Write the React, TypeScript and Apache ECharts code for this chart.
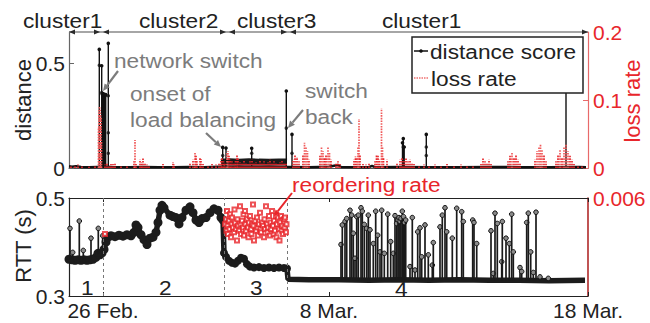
import React, { useEffect, useRef } from 'react';
import * as echarts from 'echarts';

const FONT = '"Liberation Sans", Arial, Helvetica, sans-serif';
const RED = '#e8262b';
const GRAY = '#7c7c7c';

// x unit = sample index (hours from start of the trace)
const xTickValues = [34, 260, 519];
const xTickLabels = ['26 Feb.', '8 Mar.', '18 Mar.'];
const periodBounds = [34, 155, 218];

const distTicks = [0, 0.5];
const lossTicks = [0, 0.1, 0.2];
const rttTicks = [0.3, 0.5];
const reorderTicks = [0.006];

// distance score baseline
const distBase = [
  [0, 0.008], [3, 0.006], [7, 0.009], [12, 0.005], [20, 0.004], [28, 0.005], [38, 0.006], [45, 0.004],
  [60, 0.004], [75, 0.005], [90, 0.004], [105, 0.004], [120, 0.005], [135, 0.004], [150, 0.006],
  [219, 0.005], [240, 0.004], [260, 0.006], [269, 0.014], [272, 0.005], [300, 0.004], [303, 0.01],
  [306, 0.004], [330, 0.005], [360, 0.004], [390, 0.004], [420, 0.005], [450, 0.004], [480, 0.004],
  [510, 0.005], [517, 0.004],
];
// distance during load balancing period
const distBand = [
  [152, 0.028], [160, 0.03], [170, 0.027], [180, 0.03], [190, 0.028], [200, 0.027], [210, 0.029], [218, 0.028],
];
// distance score spikes [x, top]
const distSpikes = [
  [30.3, 0.565], [32.7, 0.487], [33.2, 0.352], [33.7, 0.355], [34.2, 0.35], [34.7, 0.352], [35.2, 0.348],
  [35.7, 0.35], [36.2, 0.345], [36.7, 0.35], [39.3, 0.594], [153.7, 0.098], [157, 0.095], [182.7, 0.094],
  [217.3, 0.367], [223, 0.16], [333.5, 0.12], [334.3, 0.14], [335.2, 0.1], [357.3, 0.16], [497, 0.45],
];
const distDots = [
  [30.3, 0.49], [32.7, 0.36], [39.3, 0.344], [39.3, 0.168], [39.3, 0.07], [217.3, 0.19], [223, 0.07],
  [334.3, 0.1], [357.3, 0.1], [357.3, 0.06], [182.7, 0.07], [153.7, 0.06],
];

// loss rate stems [x, rate]
const lossRate = [
  [2, 0.004], [6, 0.003], [9, 0.005], [13, 0.003], [20, 0.002], [26, 0.003],
  [29.5, 0.06], [30, 0.085], [30.5, 0.09], [31, 0.088], [31.5, 0.08], [32, 0.075], [32.5, 0.04],
  [36, 0.005], [38, 0.008], [40, 0.004], [42, 0.006], [44, 0.006], [46, 0.008], [52, 0.004], [58, 0.003],
  [65, 0.01], [66, 0.041], [67, 0.006], [71, 0.012], [72.5, 0.009], [74, 0.014], [76, 0.007], [78, 0.005],
  [80, 0.004], [94, 0.006], [104, 0.009], [105, 0.005], [121, 0.008], [124, 0.012], [126, 0.024],
  [127, 0.018], [128, 0.01], [131, 0.015], [132, 0.013], [134, 0.006], [139, 0.004], [143, 0.006],
  [147, 0.005], [150, 0.008], [152, 0.012], [153, 0.015], [154.5, 0.01], [156, 0.008], [158, 0.022],
  [159, 0.025], [160, 0.018], [161.5, 0.012], [163, 0.01], [165, 0.008], [166.5, 0.012], [168, 0.02],
  [169, 0.014], [171, 0.009], [173, 0.007], [175, 0.011], [177, 0.008], [179, 0.006], [181, 0.01],
  [183, 0.012], [185, 0.007], [187, 0.009], [189, 0.006], [191, 0.011], [193, 0.008], [195, 0.01],
  [197, 0.006], [199, 0.009], [201, 0.012], [203, 0.007], [205, 0.01], [207, 0.008], [209, 0.006],
  [211, 0.009], [213, 0.011], [215, 0.007], [217, 0.008], [224, 0.012], [226, 0.019], [228, 0.016],
  [230, 0.01], [234, 0.02], [235.5, 0.037], [237, 0.03], [238.5, 0.025], [240, 0.012], [251, 0.018],
  [252.5, 0.03], [254, 0.025], [255.5, 0.015], [257, 0.02], [259, 0.031], [260.5, 0.022], [262, 0.012],
  [267, 0.008], [269, 0.01], [271, 0.006], [285, 0.012], [286.5, 0.017], [288, 0.015], [289, 0.03],
  [290, 0.072], [291, 0.02], [294, 0.006], [297, 0.005], [300, 0.008], [306, 0.01], [307.5, 0.02],
  [309, 0.018], [310.5, 0.012], [312.5, 0.088], [313.5, 0.03], [314.5, 0.015], [318, 0.012], [328, 0.008],
  [331, 0.012], [333, 0.015], [335, 0.012], [337, 0.014], [339, 0.01], [341, 0.012], [343, 0.008],
  [345, 0.006], [350, 0.004], [355, 0.005], [360, 0.003], [366, 0.005], [372, 0.004], [378, 0.006],
  [385, 0.003], [392, 0.005], [398, 0.004], [404, 0.003], [412, 0.006], [414, 0.014], [416, 0.01],
  [418, 0.008], [420, 0.012], [422, 0.006], [439, 0.01], [441, 0.018], [443, 0.022], [445, 0.015],
  [447, 0.02], [449, 0.012], [451, 0.008], [466, 0.012], [468, 0.025], [470, 0.03], [471.5, 0.035],
  [473, 0.028], [475, 0.02], [477, 0.01], [487, 0.01], [489, 0.02], [491, 0.026], [493, 0.015],
  [495, 0.03], [497, 0.035], [499, 0.025], [501, 0.018], [503, 0.012], [505, 0.006], [509, 0.004], [513, 0.003],
];

// RTT level (s)
const rttBase = [
  [0, 0.375], [3, 0.374], [6, 0.373], [9, 0.374], [12, 0.373], [15, 0.374], [18, 0.373], [21, 0.374],
  [24, 0.375], [27, 0.379], [29, 0.387], [31, 0.384], [33, 0.388],
  [35, 0.395], [37, 0.41], [39, 0.42], [42, 0.423], [46, 0.421], [50, 0.424], [54, 0.422], [58, 0.425],
  [62, 0.423], [65, 0.43], [67, 0.445], [69, 0.44], [72, 0.425], [75, 0.415], [78, 0.405], [81, 0.418],
  [84, 0.42], [87, 0.43], [89, 0.45], [91, 0.475], [93, 0.485], [95, 0.48],
  [101, 0.465], [104, 0.462], [107, 0.46], [110, 0.447], [113, 0.46], [117, 0.475], [121, 0.482],
  [124, 0.47], [127, 0.455], [130, 0.45], [133, 0.458], [137, 0.46], [141, 0.47], [145, 0.478],
  [149, 0.475], [152, 0.46], [154, 0.455],
  [155, 0.388], [157, 0.38], [160, 0.372], [163, 0.368], [166, 0.366], [169, 0.372], [172, 0.378],
  [175, 0.376], [178, 0.365], [181, 0.36], [185, 0.358], [190, 0.359], [195, 0.357], [200, 0.358],
  [205, 0.357], [210, 0.358], [215, 0.357], [218, 0.356],
  [219, 0.334], [240, 0.333], [270, 0.333], [300, 0.332], [330, 0.333], [360, 0.332], [390, 0.333],
  [420, 0.332], [450, 0.332], [480, 0.331], [516, 0.332],
];
// RTT spikes [x, top]
const rttSpikes = [
  [1, 0.438], [3.7, 0.389], [10.3, 0.453], [14.3, 0.393], [22, 0.418], [29.3, 0.438], [33.7, 0.423],
  [272, 0.405], [273.3, 0.445], [276, 0.452], [277.7, 0.458], [281, 0.475], [282.7, 0.465], [284.3, 0.428],
  [286, 0.377], [287.7, 0.462], [289.3, 0.465], [292, 0.48], [293.3, 0.473], [295.3, 0.446], [297.7, 0.438],
  [299.3, 0.465], [301, 0.435], [304.3, 0.407], [306.7, 0.473], [308.7, 0.424], [311, 0.39], [312.7, 0.475],
  [315.3, 0.387], [318.7, 0.467], [321.7, 0.411], [324.3, 0.387], [326, 0.464], [327.7, 0.448], [329, 0.455],
  [330, 0.46], [331, 0.452], [332, 0.458], [333.3, 0.473], [334.5, 0.462], [335.5, 0.45], [336.7, 0.455],
  [341, 0.36], [343.3, 0.46], [346, 0.353], [348.7, 0.431], [351, 0.439], [352.7, 0.38], [356, 0.445],
  [359.3, 0.384], [363.3, 0.363], [364.3, 0.409], [371, 0.441], [373.3, 0.465], [376, 0.48], [377.7, 0.431],
  [383.3, 0.418], [387.7, 0.479], [392.7, 0.472], [394.3, 0.452], [403.7, 0.455], [405, 0.45], [407.7, 0.407],
  [422, 0.433], [424.3, 0.346], [426, 0.469], [428.3, 0.448], [432.7, 0.37], [433.3, 0.452], [437, 0.418],
  [440.3, 0.407], [442.7, 0.467], [444.3, 0.39], [451, 0.358], [452.7, 0.35], [457.7, 0.45], [459.3, 0.469],
  [461.7, 0.39], [464.3, 0.348], [467, 0.471], [471, 0.339], [479.3, 0.336],
];
// reordering rate [x, rate]
const reorderRate = [
  [36, 0.0038],
  [156, 0.0044], [157, 0.0047], [157.5, 0.004], [158, 0.0052], [158.5, 0.0043], [159, 0.0038], [160, 0.0046],
  [160.5, 0.0041], [161, 0.005], [162, 0.0036], [162.5, 0.0044], [163, 0.0048], [164, 0.0042], [165, 0.0039],
  [165.5, 0.0053], [166, 0.0045], [167, 0.0041], [168, 0.0034], [168.5, 0.0047], [169, 0.0043], [170, 0.004],
  [171, 0.0055], [171.5, 0.0044], [172, 0.0038], [173, 0.0046], [174, 0.0042], [174.5, 0.005], [175, 0.0037],
  [176, 0.0052], [176.5, 0.0044], [177, 0.004], [178, 0.0047], [179, 0.0042], [179.5, 0.0036], [180, 0.0045],
  [181, 0.0049], [182, 0.0041], [182.5, 0.0038], [183, 0.0044], [184, 0.0056], [184.5, 0.0043], [185, 0.0034],
  [186, 0.0046], [187, 0.004], [188, 0.0048], [188.5, 0.0042], [189, 0.0037], [190, 0.0044], [191, 0.0051],
  [191.5, 0.0041], [192, 0.0039], [193, 0.0045], [194, 0.0043], [195, 0.0036], [195.5, 0.0047], [196, 0.0041],
  [197, 0.0055], [198, 0.0044], [198.5, 0.0039], [199, 0.0042], [200, 0.0049], [201, 0.0037], [201.5, 0.0045],
  [202, 0.0041], [203, 0.0052], [204, 0.0043], [204.5, 0.0038], [205, 0.0046], [206, 0.004], [207, 0.0049],
  [207.5, 0.0036], [208, 0.0044], [209, 0.0048], [210, 0.0041], [210.5, 0.0034], [211, 0.0045], [212, 0.0049],
  [212.5, 0.004], [213, 0.0043], [214, 0.0038], [215, 0.0047], [215.5, 0.0042], [216, 0.0048], [217, 0.0039],
  [217.5, 0.0044],
];

function baseAt(x: number): number {
  for (let i = 1; i < rttBase.length; i++) {
    const a = rttBase[i - 1];
    const b = rttBase[i];
    if (x <= b[0]) {
      if (b[0] === a[0]) return b[1];
      const t = (x - a[0]) / (b[0] - a[0]);
      return a[1] + t * (b[1] - a[1]);
    }
  }
  return rttBase[rttBase.length - 1][1];
}

function txt(text: string, x: number, y: number, color = '#222', size = 21, extra: any = {}) {
  return {
    type: 'text', x, y, scaleX: 1.08, z: 50, ...extra,
    style: {
      text, fontSize: size, fontFamily: FONT, fill: color,
      align: 'left', verticalAlign: 'middle', textAlign: 'left', textVerticalAlign: 'middle',
    },
  };
}

function arrow(x1: number, y1: number, x2: number, y2: number, color: string, w = 2.2, head = 7) {
  const ang = Math.atan2(y2 - y1, x2 - x1);
  const bx = x2 - head * Math.cos(ang);
  const by = y2 - head * Math.sin(ang);
  const hw = head * 0.45;
  const px = -Math.sin(ang) * hw;
  const py = Math.cos(ang) * hw;
  return [
    { type: 'line', z: 50, shape: { x1, y1, x2: bx, y2: by }, style: { stroke: color, lineWidth: w } },
    { type: 'polygon', z: 50, shape: { points: [[x2, y2], [bx + px, by + py], [bx - px, by - py]] }, style: { fill: color } },
  ];
}

function head(tipX: number, y: number, dir: number) {
  return {
    type: 'polygon', z: 50,
    shape: { points: [[tipX, y], [tipX - dir * 6, y - 2.6], [tipX - dir * 6, y + 2.6]] },
    style: { fill: '#2a2a2a' },
  };
}

export default function App() {
  const ref = useRef<HTMLDivElement>(null);
  useEffect(() => {
    if (!ref.current) return;
    const chart = echarts.init(ref.current, undefined, { renderer: 'svg' });
    const axisLabelBase = { fontSize: 21, fontFamily: FONT, color: '#222' };

    const graphic: any[] = [
      // cluster line
      { type: 'line', z: 40, shape: { x1: 69, y1: 32, x2: 588, y2: 32 }, style: { stroke: '#888', lineWidth: 1.5 } },
      head(69, 32, -1), head(100, 32, 1), head(103, 32, -1), head(226, 32, 1), head(229, 32, -1),
      head(287, 32, 1), head(290, 32, -1), head(588, 32, 1),
      txt('cluster1', 23, 21), txt('cluster2', 139, 21), txt('cluster3', 237, 21), txt('cluster1', 382, 21),
      // annotations
      txt('network switch', 114, 61, GRAY),
      ...arrow(118, 71, 103, 91, GRAY),
      txt('onset of', 130, 94, GRAY),
      txt('load balancing', 130, 120, GRAY),
      ...arrow(206, 133, 221, 147, GRAY),
      txt('switch', 305, 91, GRAY),
      txt('back', 305, 117, GRAY),
      ...arrow(303, 110, 288, 128, GRAY),
      txt('reordering rate', 292, 185, RED),
      ...arrow(292, 193, 274, 216, RED, 2, 6),
      // legend
      { type: 'rect', z: 100, shape: { x: 412, y: 37, width: 171, height: 56 }, style: { fill: '#fff', stroke: '#222', lineWidth: 1.5 } },
      { type: 'line', z: 101, shape: { x1: 414, y1: 51, x2: 428, y2: 51 }, style: { stroke: '#111', lineWidth: 1.5 } },
      { type: 'circle', z: 101, shape: { cx: 421, cy: 51, r: 1.8 }, style: { fill: '#111' } },
      { type: 'line', z: 101, shape: { x1: 414, y1: 78, x2: 428, y2: 78 }, style: { stroke: '#f07070', lineWidth: 1.6, lineDash: [1.5, 1] } },
      txt('distance score', 430, 52, '#222', 21, { z: 101 }),
      txt('loss rate', 431, 79, '#222', 21, { z: 101 }),
      // axis names
      { type: 'text', z: 50, x: 23, y: 100, rotation: Math.PI / 2, style: { text: 'distance', fontSize: 22, fontFamily: FONT, fill: '#222', align: 'center', verticalAlign: 'middle', textAlign: 'center', textVerticalAlign: 'middle' } },
      { type: 'text', z: 50, x: 23, y: 246, rotation: Math.PI / 2, style: { text: 'RTT (s)', fontSize: 22, fontFamily: FONT, fill: '#222', align: 'center', verticalAlign: 'middle', textAlign: 'center', textVerticalAlign: 'middle' } },
      { type: 'text', z: 50, x: 632, y: 101, rotation: Math.PI / 2, style: { text: 'loss rate', fontSize: 22, fontFamily: FONT, fill: RED, align: 'center', verticalAlign: 'middle', textAlign: 'center', textVerticalAlign: 'middle' } },
      // period numbers
      txt('1', 81, 288), txt('2', 159, 288), txt('3', 250, 288), txt('4', 395, 289),
    ];

    const option: any = {
      animation: false,
      backgroundColor: '#fff',
      grid: [
        { left: 69, top: 32, width: 519, height: 136 },
        { left: 69, top: 198, width: 519, height: 98 },
      ],
      xAxis: [
        {
          gridIndex: 0, type: 'value', min: 0, max: 519,
          axisLine: { onZero: false, lineStyle: { color: '#555', width: 1 } },
          axisTick: { show: false }, axisLabel: { show: false }, splitLine: { show: false },
        },
        {
          gridIndex: 1, type: 'value', min: 0, max: 519, position: 'bottom',
          axisLine: { onZero: false, lineStyle: { color: '#222', width: 1.2 } },
          axisTick: { inside: true, length: 4, customValues: xTickValues, lineStyle: { color: '#222' } },
          axisLabel: {
            ...axisLabelBase, margin: 4, customValues: xTickValues,
            formatter: (v: number) => xTickLabels[xTickValues.indexOf(v)] ?? '',
          },
          splitLine: { show: false },
        },
        {
          gridIndex: 1, type: 'value', min: 0, max: 519, position: 'top',
          axisLine: { onZero: false, lineStyle: { color: '#222', width: 1.2 } },
          axisTick: { inside: true, length: 4, customValues: xTickValues, lineStyle: { color: '#222' } },
          axisLabel: { show: false }, splitLine: { show: false },
        },
      ],
      yAxis: [
        {
          gridIndex: 0, type: 'value', min: 0, max: 0.648, position: 'left',
          axisLine: { show: true, onZero: false, lineStyle: { color: '#666', width: 1.2 } },
          axisTick: { show: true, inside: true, length: 5, customValues: distTicks, lineStyle: { color: '#666' } },
          axisLabel: { ...axisLabelBase, margin: 4, customValues: distTicks },
          splitLine: { show: false },
        },
        {
          gridIndex: 0, type: 'value', min: 0, max: 0.2, position: 'right',
          axisLine: { show: true, onZero: false, lineStyle: { color: '#e86a6a', width: 1.2 } },
          axisTick: { show: true, inside: true, length: 5, customValues: lossTicks, lineStyle: { color: '#e86a6a' } },
          axisLabel: { ...axisLabelBase, color: RED, margin: 5, customValues: lossTicks },
          splitLine: { show: false },
        },
        {
          gridIndex: 1, type: 'value', min: 0.3, max: 0.5, position: 'left',
          axisLine: { show: true, onZero: false, lineStyle: { color: '#222', width: 1.2 } },
          axisTick: { show: true, inside: true, length: 4, customValues: rttTicks, lineStyle: { color: '#222' } },
          axisLabel: { ...axisLabelBase, margin: 4, customValues: rttTicks },
          splitLine: { show: false },
        },
        {
          gridIndex: 1, type: 'value', min: 0, max: 0.006, position: 'right',
          axisLine: { show: true, onZero: false, lineStyle: { color: '#b02a2a', width: 1.6 } },
          axisTick: { show: false },
          axisLabel: { ...axisLabelBase, color: RED, margin: 5, customValues: reorderTicks },
          splitLine: { show: false },
        },
      ],
      series: [
        {
          type: 'line', xAxisIndex: 0, yAxisIndex: 0, data: distBase, showSymbol: false, z: 2,
          lineStyle: { color: '#111', width: 2.5 }, itemStyle: { color: '#111' },
        },
        {
          type: 'line', xAxisIndex: 0, yAxisIndex: 0, data: distBand, showSymbol: false, z: 2,
          lineStyle: { color: '#1a1a1a', width: 7 }, itemStyle: { color: '#1a1a1a' },
        },
        {
          type: 'custom', xAxisIndex: 0, yAxisIndex: 0, data: distSpikes, z: 3,
          encode: { x: 0, y: 1 }, itemStyle: { color: '#111' },
          renderItem: (_p: any, api: any) => {
            const x = api.value(0);
            const v = api.value(1);
            const p0 = api.coord([x, 0.004]);
            const p1 = api.coord([x, v]);
            return {
              type: 'group',
              children: [
                { type: 'line', shape: { x1: p0[0], y1: p0[1], x2: p1[0], y2: p1[1] }, style: { stroke: '#111', lineWidth: 1.4 } },
                { type: 'circle', shape: { cx: p1[0], cy: p1[1], r: 1.8 }, style: { fill: '#111' } },
              ],
            };
          },
        },
        {
          type: 'scatter', xAxisIndex: 0, yAxisIndex: 0, data: distDots, symbolSize: 3.5, z: 3,
          itemStyle: { color: '#111' },
        },
        {
          type: 'custom', xAxisIndex: 0, yAxisIndex: 1, data: lossRate, z: 4,
          encode: { x: 0, y: 1 }, itemStyle: { color: RED },
          renderItem: (_p: any, api: any) => {
            const x = api.value(0);
            const v = api.value(1);
            const p0 = api.coord([x, 0]);
            const p1 = api.coord([x, v]);
            return {
              type: 'line',
              shape: { x1: p0[0], y1: p0[1], x2: p1[0], y2: p1[1] },
              style: { stroke: v > 0.02 ? '#f05a5a' : RED, fill: null, lineWidth: 1.7, lineDash: [1.6, 1.1] },
            };
          },
        },
        {
          type: 'line', xAxisIndex: 1, yAxisIndex: 2, data: rttBase, z: 3,
          symbol: 'circle',
          symbolSize: (val: number[]) => (val[0] < 155 ? 9 : val[0] < 219 ? 8 : 0),
          itemStyle: { color: '#1c1c1c' },
          lineStyle: { color: '#1c1c1c', width: 5.5 },
          markLine: {
            silent: true, symbol: 'none', label: { show: false },
            lineStyle: { type: [3, 3], color: '#777', width: 1 },
            data: periodBounds.map((v) => ({ xAxis: v })),
          },
        },
        {
          type: 'custom', xAxisIndex: 1, yAxisIndex: 2, data: rttSpikes, z: 4,
          encode: { x: 0, y: 1 }, itemStyle: { color: '#1a1a1a' },
          renderItem: (_p: any, api: any) => {
            const x = api.value(0);
            const v = api.value(1);
            const p0 = api.coord([x, baseAt(x)]);
            const p1 = api.coord([x, v]);
            return {
              type: 'group',
              children: [
                { type: 'line', shape: { x1: p0[0], y1: p0[1], x2: p1[0], y2: p1[1] }, style: { stroke: '#1a1a1a', lineWidth: 1.7 } },
                { type: 'circle', shape: { cx: p1[0], cy: p1[1], r: 2.3 }, style: { fill: '#8a8a8a', stroke: '#111', lineWidth: 1 } },
              ],
            };
          },
        },
        {
          type: 'scatter', xAxisIndex: 1, yAxisIndex: 3, data: reorderRate, z: 5,
          symbol: 'emptyRect', symbolSize: 4,
          itemStyle: { color: RED, borderWidth: 1 },
        },
      ],
      graphic,
    };
    chart.setOption(option);
    return () => chart.dispose();
  }, []);
  return (
    <div
      ref={ref}
      style={{ position: 'fixed', left: 0, top: 0, width: 650, height: 323, background: '#fff' }}
    />
  );
}
